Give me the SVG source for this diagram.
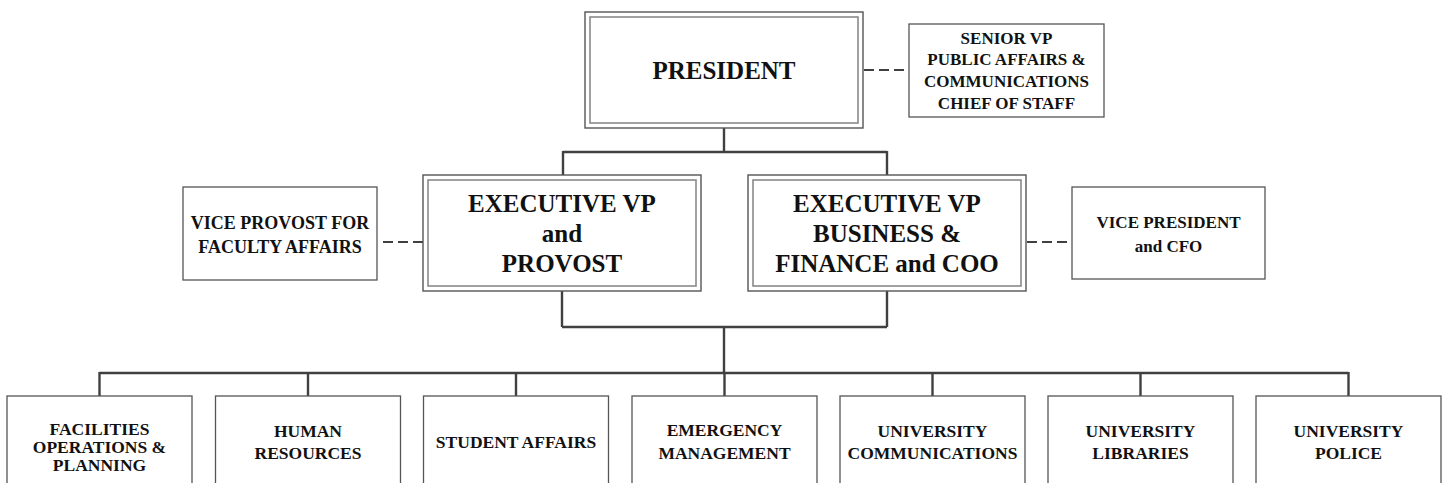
<svg xmlns="http://www.w3.org/2000/svg" width="1445" height="483" viewBox="0 0 1445 483">
<style>
  .bg{fill:#ffffff}
  .box{fill:#ffffff;stroke:#555555;stroke-width:1.3}
  .outer{fill:#ffffff;stroke:#555555;stroke-width:1.4}
  .inner{fill:none;stroke:#8a8a8a;stroke-width:1.6}
  .conn{fill:none;stroke:#404040;stroke-width:2.4}
  .dash{fill:none;stroke:#404040;stroke-width:2.2;stroke-dasharray:10 5}
  text{font-family:"Liberation Serif","Times New Roman",serif;font-weight:bold;fill:#111111;text-anchor:middle}
  .big{font-size:25px}
  .sm{font-size:17.5px}
</style>
<rect class="bg" x="0" y="0" width="1445" height="483"/>

<g id="connectors">
  <path class="conn" d="M724,128 V152 M563,152 H887 M563,151 V176 M887,151 V176"/>
  <path class="conn" d="M562,291 V327 M887,291 V327 M562,327 H887 M724,327 V373"/>
  <path class="conn" d="M99.5,373 H1348.5 M99.5,372 V396 M308,372 V396 M516,372 V396 M724.5,372 V396 M932.5,372 V396 M1140.5,372 V396 M1348.5,372 V396"/>
  <path class="dash" d="M864,70 H904"/>
  <path class="dash" d="M383,242 H423"/>
  <path class="dash" d="M1027,242 H1067"/>
</g>

<g id="president">
  <rect class="outer" x="585" y="12" width="278" height="116"/>
  <rect class="inner" x="590" y="17" width="268" height="106"/>
  <text class="big" x="724" y="79">PRESIDENT</text>
</g>

<g id="senior-vp">
  <rect class="box" x="909" y="24" width="195" height="93"/>
  <text class="sm" x="1006.5" y="43.5" style="font-size:17px">SENIOR VP</text>
  <text class="sm" x="1006.5" y="65" style="font-size:17px">PUBLIC AFFAIRS &amp;</text>
  <text class="sm" x="1006.5" y="87" style="font-size:17px">COMMUNICATIONS</text>
  <text class="sm" x="1006.5" y="108.5" style="font-size:17px">CHIEF OF STAFF</text>
</g>

<g id="evp-provost">
  <rect class="outer" x="423" y="175" width="278" height="116"/>
  <rect class="inner" x="428" y="180" width="268" height="106"/>
  <text class="big" x="562" y="212">EXECUTIVE VP</text>
  <text class="big" x="562" y="242">and</text>
  <text class="big" x="562" y="272">PROVOST</text>
</g>

<g id="evp-business">
  <rect class="outer" x="748" y="175" width="278" height="116"/>
  <rect class="inner" x="753" y="180" width="268" height="106"/>
  <text class="big" x="887" y="212">EXECUTIVE VP</text>
  <text class="big" x="887" y="242">BUSINESS &amp;</text>
  <text class="big" x="887" y="272">FINANCE and COO</text>
</g>

<g id="vp-faculty">
  <rect class="box" x="183" y="187" width="194" height="93"/>
  <text class="sm" x="280" y="229" style="font-size:18px">VICE PROVOST FOR</text>
  <text class="sm" x="280" y="253" style="font-size:18px">FACULTY AFFAIRS</text>
</g>

<g id="vp-cfo">
  <rect class="box" x="1072" y="187" width="193" height="92"/>
  <text class="sm" x="1168.5" y="228" style="font-size:17px">VICE PRESIDENT</text>
  <text class="sm" x="1168.5" y="252" style="font-size:17px">and CFO</text>
</g>

<g id="facilities">
  <rect class="box" x="7" y="396" width="185" height="110"/>
  <text class="sm" x="99.5" y="435">FACILITIES</text>
  <text class="sm" x="99.5" y="453">OPERATIONS &amp;</text>
  <text class="sm" x="99.5" y="471">PLANNING</text>
</g>

<g id="human-resources">
  <rect class="box" x="215.5" y="396" width="185" height="110"/>
  <text class="sm" x="308" y="437">HUMAN</text>
  <text class="sm" x="308" y="459">RESOURCES</text>
</g>

<g id="student-affairs">
  <rect class="box" x="423.5" y="396" width="185" height="110"/>
  <text class="sm" x="516" y="448">STUDENT AFFAIRS</text>
</g>

<g id="emergency-management">
  <rect class="box" x="632" y="396" width="185" height="110"/>
  <text class="sm" x="724.5" y="436">EMERGENCY</text>
  <text class="sm" x="724.5" y="459">MANAGEMENT</text>
</g>

<g id="university-communications">
  <rect class="box" x="840" y="396" width="185" height="110"/>
  <text class="sm" x="932.5" y="437">UNIVERSITY</text>
  <text class="sm" x="932.5" y="459">COMMUNICATIONS</text>
</g>

<g id="university-libraries">
  <rect class="box" x="1048" y="396" width="185" height="110"/>
  <text class="sm" x="1140.5" y="437">UNIVERSITY</text>
  <text class="sm" x="1140.5" y="459">LIBRARIES</text>
</g>

<g id="university-police">
  <rect class="box" x="1256" y="396" width="185" height="110"/>
  <text class="sm" x="1348.5" y="437">UNIVERSITY</text>
  <text class="sm" x="1348.5" y="459">POLICE</text>
</g>
</svg>
